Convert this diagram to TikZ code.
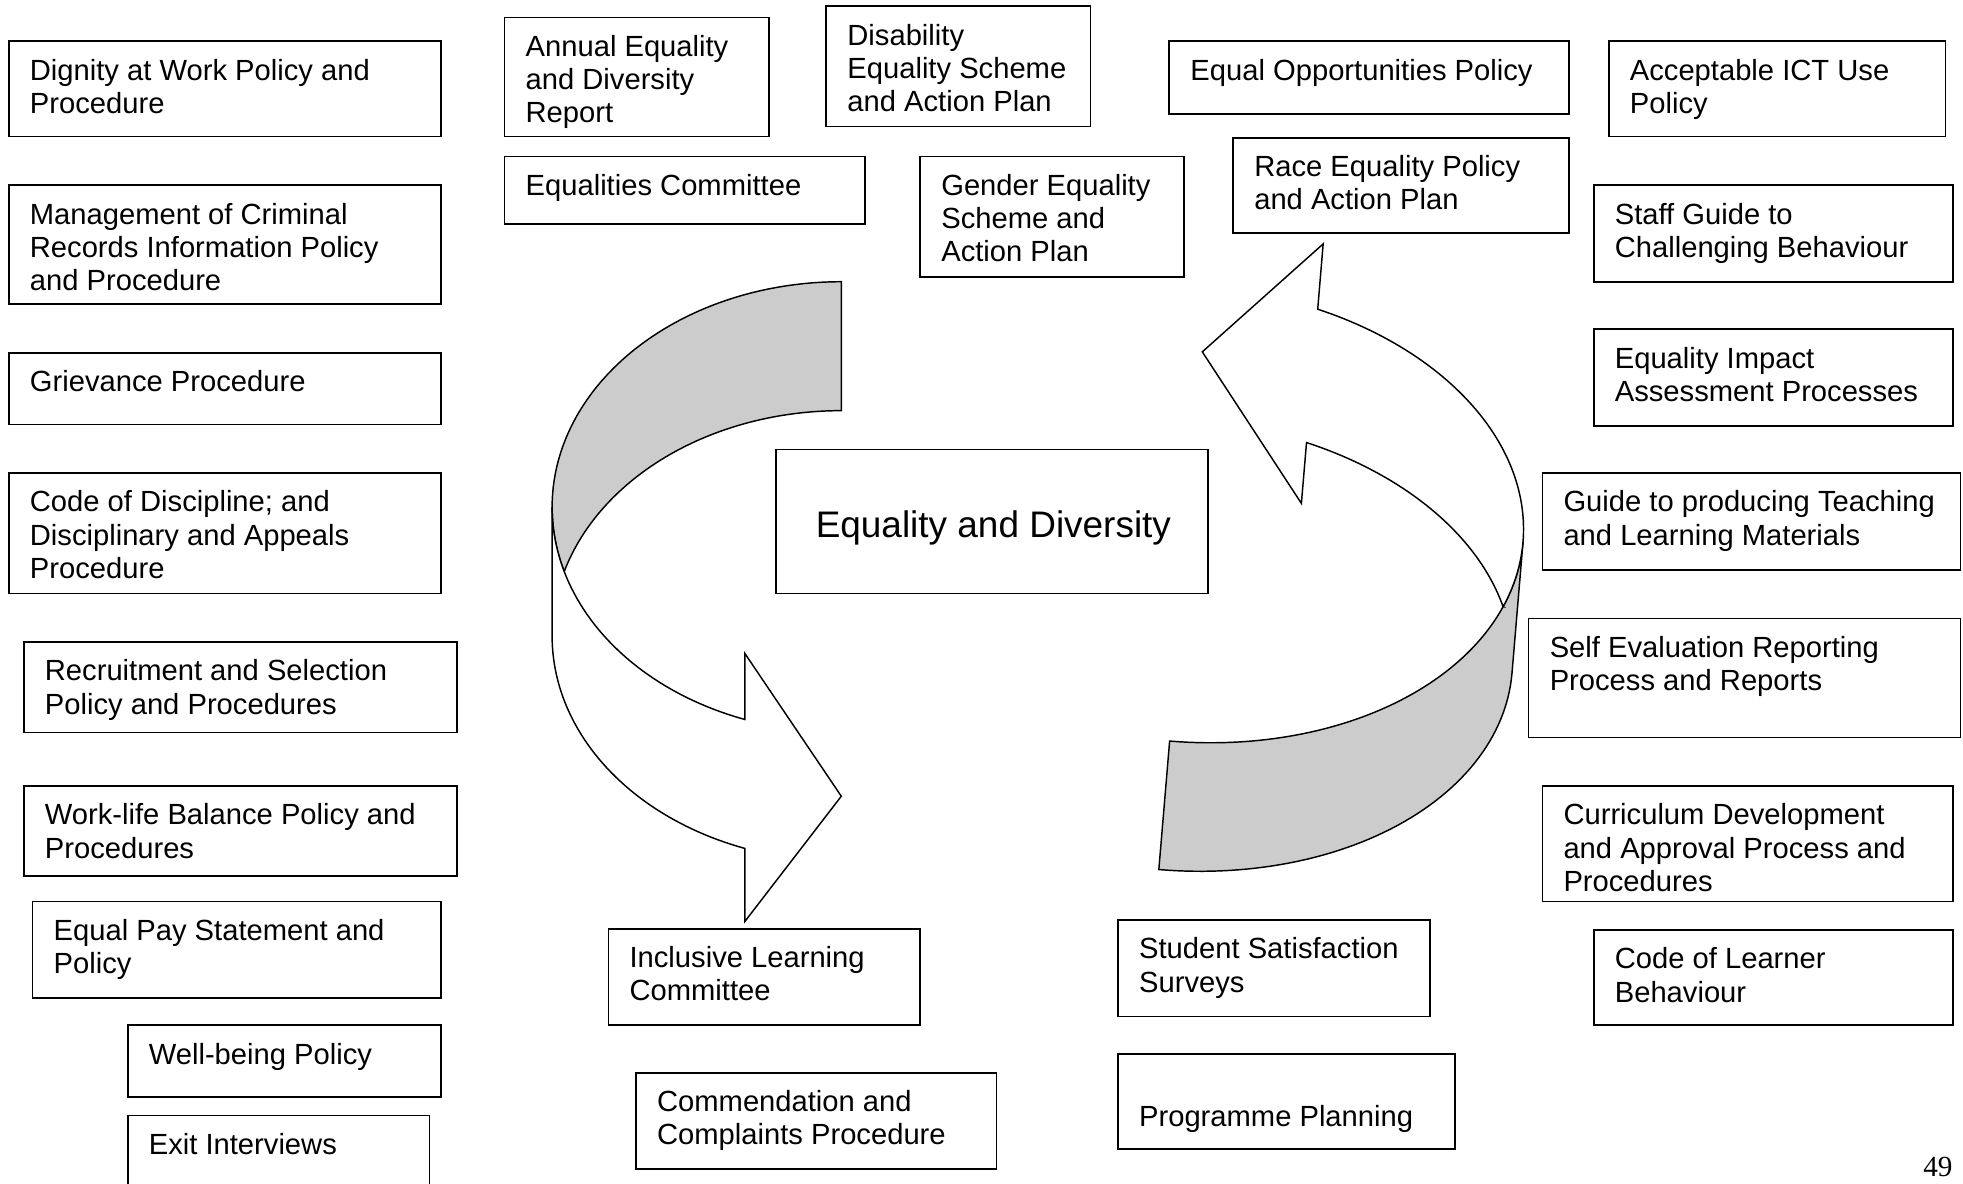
\documentclass[tikz,border=0pt]{standalone}
\usepackage{fontspec}
\setmainfont{Liberation Sans}
\newfontfamily\pgnumfont{Liberation Serif}
\definecolor{ribbongray}{RGB}{204,204,204}
\tikzset{
  bx/.style={draw, line width=0.72pt, fill=white, inner sep=0pt, rectangle},
  txt/.style={anchor=north west, inner sep=0pt, align=left, font=\fontsize{12}{13.65}\selectfont},
  ribbon/.style={draw, line width=0.6pt, line join=miter},
}
\newcommand{\bxnode}[6]{%
  \node[bx, minimum width={(#4-#2)*0.515pt}, minimum height={(#5-#3)*0.515pt}]
    (#1) at ({(#2+#4)/2},{(#3+#5)/2}) {};
  \node[txt] (#1t) at ({#2+16.5},{#3+12}) {\strut #6};
}
\begin{document}
\begin{tikzpicture}[x=0.515pt,y=-0.515pt]
\useasboundingbox (0,0) rectangle (1568,945);
\clip (0,0) rectangle (1568,945);

% left curved arrow: ellipse E1 (centre 0,0) and E3 (centre 0,103)
\begin{scope}[shift={(672,405)}]
  \filldraw[ribbon, fill=ribbongray] (0,-180)
    -- plot[domain=-90:-196.63, samples=60, variable=\t] ({231*cos(\t)},{180*sin(\t)})
    -- plot[domain=196.63:270, samples=50, variable=\t] ({231*cos(\t)},{103+180*sin(\t)})
    -- cycle;
  \filldraw[ribbon, fill=white] (-221.3,51.5)
    -- plot[domain=163.37:109.47, samples=50, variable=\t] ({231*cos(\t)},{180*sin(\t)})
    -- (-77,117) -- (0,231) -- (-77,331)
    -- plot[domain=109.47:180, samples=50, variable=\t] ({231*cos(\t)},{103+180*sin(\t)})
    -- (-231,0)
    -- plot[domain=180:163.37, samples=15, variable=\t] ({231*cos(\t)},{180*sin(\t)})
    -- cycle;
\end{scope}

% right curved arrow: ellipse E1 (centre 0,0) and E3 (centre 0,-105)
\begin{scope}[shift={(940.7,515.2)}, rotate=-4.8]
  \filldraw[ribbon, fill=ribbongray] (0,180)
    -- plot[domain=90:0, samples=60, variable=\t] ({268*cos(\t)},{180*sin(\t)})
    -- (268,-105)
    -- plot[domain=0:90, samples=60, variable=\t] ({268*cos(\t)},{-105+182*sin(\t)})
    -- cycle;
  \filldraw[ribbon, fill=white] (256.5,-52.2)
    -- plot[domain=-16.86:-70.6, samples=50, variable=\t] ({268*cos(\t)},{180*sin(\t)})
    -- (89,-121) -- (0,-235) -- (89,-329)
    -- plot[domain=-70.6:16.86, samples=70, variable=\t] ({268*cos(\t)},{-105+182*sin(\t)})
    -- cycle;
\end{scope}

% left column
\bxnode{dignity}{7}{33}{352}{109}{Dignity at Work Policy and\\Procedure}
\bxnode{criminal}{7}{148}{352}{243}{Management of Criminal\\Records Information Policy\\and Procedure}
\bxnode{grievance}{7}{282}{352}{339}{Grievance Procedure}
\bxnode{discipline}{7}{378}{352}{474}{Code of Discipline; and\\Disciplinary and Appeals\\Procedure}
\bxnode{recruit}{19}{513}{365}{585}{Recruitment and Selection\\Policy and Procedures}
\bxnode{worklife}{19}{628}{365}{700}{Work-life Balance Policy and\\Procedures}
\bxnode{equalpay}{26}{720}{352}{797}{Equal Pay Statement and\\Policy}
\bxnode{wellbeing}{102}{819}{352}{876}{Well-being Policy}
\bxnode{exit}{102}{891}{343}{990}{Exit Interviews}

% top
\bxnode{annual}{403}{14}{614}{109}{Annual Equality\\and Diversity\\Report}
\bxnode{disability}{660}{5}{871}{101}{Disability\\Equality Scheme\\and Action Plan}
\bxnode{committee}{403}{125}{691}{179}{Equalities Committee}
\bxnode{gender}{735}{125}{946}{221}{Gender Equality\\Scheme and\\Action Plan}
\bxnode{equalopp}{934}{33}{1253}{91}{Equal Opportunities Policy}
\bxnode{race}{985}{110}{1253}{186}{Race Equality Policy\\and Action Plan}
\bxnode{ict}{1285}{33}{1554}{109}{Acceptable ICT Use\\Policy}

% right column
\bxnode{staff}{1273}{148}{1560}{225}{Staff Guide to\\Challenging Behaviour}
\bxnode{impact}{1273}{263}{1560}{340}{Equality Impact\\Assessment Processes}
\bxnode{teaching}{1232}{378}{1566}{455}{Guide to producing Teaching\\and Learning Materials}
\bxnode{selfeval}{1221}{494}{1566}{589}{Self Evaluation Reporting\\Process and Reports}
\bxnode{curriculum}{1232}{628}{1560}{720}{Curriculum Development\\and Approval Process and\\Procedures}
\bxnode{learner}{1273}{743}{1560}{819}{Code of Learner\\Behaviour}

% bottom middle
\bxnode{inclusive}{486}{742}{735}{819}{Inclusive Learning\\Committee}
\bxnode{commend}{508}{857}{796}{934}{Commendation and\\Complaints Procedure}
\bxnode{student}{893}{735}{1142}{812}{Student Satisfaction\\Surveys}
\bxnode{programme}{893}{842}{1162}{918}{\\Programme Planning}

% centre
\node[bx, minimum width={345*0.515pt}, minimum height={115*0.515pt}] (centre) at (792.5,416.5) {};
\node[inner sep=0pt, font=\fontsize{15.2}{17}\selectfont] (centret) at (793.5,422) {Equality and Diversity};

\node[inner sep=0pt, font=\pgnumfont\fontsize{12}{14}\selectfont] (pagenum) at (1548,932) {49};
\end{tikzpicture}
\end{document}
